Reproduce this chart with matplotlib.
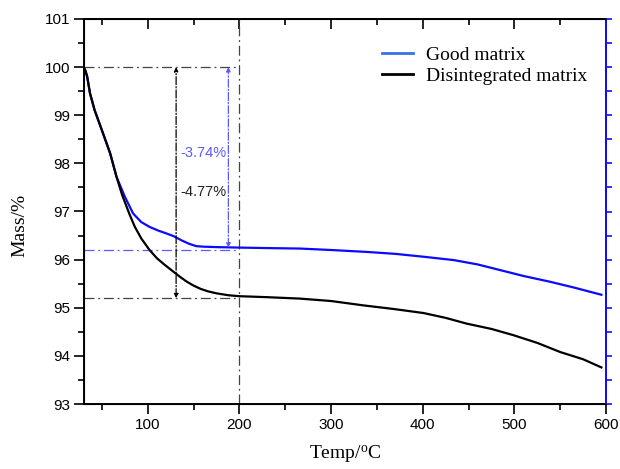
import numpy as np
import matplotlib
matplotlib.use('Agg')
import matplotlib.pyplot as plt
from matplotlib.lines import Line2D
from matplotlib.ticker import MultipleLocator

# TGA curves (temp in C, mass in %)
good_t = [30, 32, 34, 37, 42, 50, 59, 66, 75, 84, 93, 102, 112, 121, 128, 137, 145,
          153, 160, 175, 200, 230, 266, 300, 339, 370, 401, 434, 460, 485, 510, 539, 565, 595]
good_m = [100.0, 99.93, 99.8, 99.46, 99.11, 98.69, 98.21, 97.72, 97.31, 96.96, 96.78, 96.68,
          96.6, 96.54, 96.49, 96.4, 96.33, 96.28, 96.27, 96.26, 96.25, 96.24, 96.23, 96.2, 96.16,
          96.12, 96.06, 95.99, 95.9, 95.78, 95.66, 95.54, 95.42, 95.27]

bad_t = [30, 32, 34, 37, 42, 50, 59, 66, 72, 80, 86, 93, 102, 110, 118, 126, 134, 142, 150,
         158, 166, 175, 188, 200, 230, 266, 300, 335, 370, 401, 425, 448, 475, 499, 525, 550,
         575, 595]
bad_m = [100.0, 99.93, 99.8, 99.46, 99.11, 98.69, 98.21, 97.72, 97.35, 96.95, 96.68, 96.44,
         96.2, 96.03, 95.9, 95.78, 95.66, 95.55, 95.46, 95.39, 95.34, 95.3, 95.26, 95.24, 95.22,
         95.19, 95.14, 95.05, 94.97, 94.89, 94.79, 94.67, 94.56, 94.43, 94.27, 94.08, 93.93,
         93.76]

# guide lines / annotations
t_mark = 200
m_start = 100
m_good_end = 96.2
m_bad_end = 95.2
arrow_bad_t = 131
arrow_good_t = 188
loss_good = '-3.74%'
loss_bad = '-4.77%'

plt.rcParams['font.family'] = ['Liberation Sans', 'DejaVu Sans']
plt.rcParams['mathtext.default'] = 'regular'

fig = plt.figure(figsize=(6.2, 4.69), dpi=100)
ax = fig.add_axes([84 / 620, 1 - 404 / 469, 522 / 620, 385 / 469])

blue = '#0a0aff'
dash_grey = '#444444'
dash_blue = '#5a5aff'
dd = (0, (8, 3, 1.5, 3))

ax.plot(good_t, good_m, color=blue, lw=1.6, zorder=3)
ax.plot(bad_t, bad_m, color='k', lw=1.6, zorder=3)

ax.plot([30, t_mark], [m_start, m_start], ls=dd, color=dash_grey, lw=0.9)
ax.plot([30, t_mark], [m_bad_end, m_bad_end], ls=dd, color=dash_grey, lw=0.9)
ax.plot([30, 197], [m_good_end, m_good_end], ls=dd, color=dash_blue, lw=0.9)
ax.axvline(t_mark, ls=dd, color=dash_grey, lw=0.9)

ax.annotate('', xy=(arrow_bad_t, m_start), xytext=(arrow_bad_t, m_bad_end),
            arrowprops=dict(arrowstyle='<|-|>', ls='-.', color='k', lw=0.9,
                            mutation_scale=6, shrinkA=0, shrinkB=0))
ax.annotate('', xy=(arrow_good_t, m_start), xytext=(arrow_good_t, m_good_end + 0.05),
            arrowprops=dict(arrowstyle='<|-|>', ls='-.', color=dash_blue, lw=0.9,
                            mutation_scale=6, shrinkA=0, shrinkB=0))

ax.text(136, 98.21, loss_good, color=dash_blue, fontsize=10.5, va='center', ha='left')
ax.text(136, 97.41, loss_bad, color='#222222', fontsize=10.5, va='center', ha='left')

ax.set_xlim(30.5, 600)
ax.set_ylim(93, 101)
ax.xaxis.set_major_locator(MultipleLocator(100))
ax.xaxis.set_minor_locator(MultipleLocator(50))
ax.yaxis.set_major_locator(MultipleLocator(1))
ax.yaxis.set_minor_locator(MultipleLocator(0.5))
ax.tick_params(which='major', direction='out', length=7, width=1.2, labelsize=11, pad=3)
ax.tick_params(which='minor', direction='out', length=4, width=1.2)
for s in ax.spines.values():
    s.set_linewidth(1.4)

top = ax.secondary_xaxis('top')
top.xaxis.set_major_locator(MultipleLocator(100))
top.xaxis.set_minor_locator(MultipleLocator(50))
top.tick_params(which='major', direction='in', length=7, width=1.2, labeltop=False)
top.tick_params(which='minor', direction='in', length=4, width=1.2)
top.spines['top'].set_linewidth(1.4)

ax2 = ax.twinx()
ax2.set_ylim(93, 101)
ax2.yaxis.set_major_locator(MultipleLocator(0.5))
ax2.tick_params(axis='y', which='major', direction='out', length=4, width=1.2,
                color='#1010ff', labelright=False)
ax2.spines['right'].set_color('#1010ff')
ax2.spines['right'].set_linewidth(1.4)

ax.set_xlabel('Temp/$^{o}$C', family='Liberation Serif', fontsize=14, labelpad=8)
ax.set_ylabel('Mass/%', family='Liberation Serif', fontsize=14)
ax.yaxis.set_label_coords(-0.107, 0.465)

handles = [Line2D([], [], color='#3a70e8', lw=2),
           Line2D([], [], color='k', lw=2)]
ax.legend(handles, ['Good matrix', 'Disintegrated matrix'], loc='upper left',
          bbox_to_anchor=(0.571, 0.93), frameon=False, borderpad=0, borderaxespad=0,
          handlelength=1.6, handletextpad=0.65, labelspacing=0.2,
          prop={'family': 'Liberation Serif', 'size': 14})

plt.savefig('out.png', dpi=100)
plt.close()
